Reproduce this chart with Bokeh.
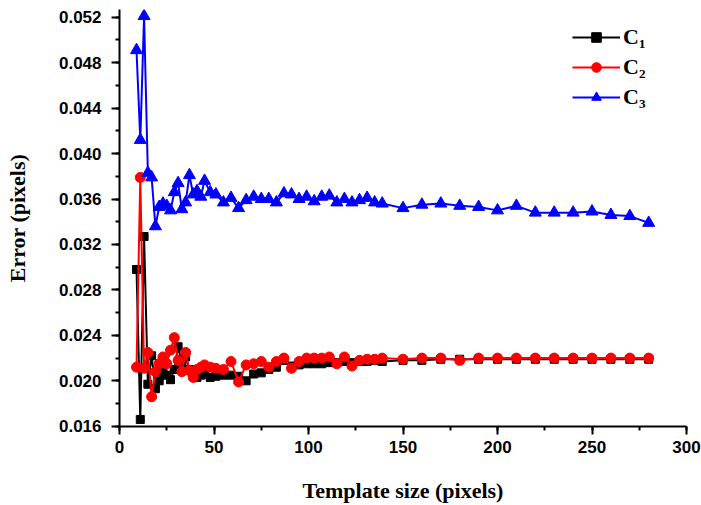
from bokeh.plotting import figure
from bokeh.models import (Range1d, SingleIntervalTicker, PrintfTickFormatter,
                          Legend, LegendItem, LinearAxis)
from bokeh.embed import file_html
from bokeh.resources import INLINE

# ---------------- data ----------------
template_size = [9, 11, 13, 15, 17, 19, 21, 23, 25, 27, 29, 31, 33, 35, 37, 39, 41, 43, 45,
                 48, 51,
                 55, 59, 63, 67, 71, 75, 79, 83, 87, 91, 95, 99, 103, 107, 111, 115, 119,
                 123, 127, 131, 135, 139,
                 150, 160, 170, 180, 190, 200, 210, 220, 230, 240, 250, 260, 270, 280]

err_c1 = [0.0298, 0.0166, 0.0327, 0.0197, 0.0222, 0.0193, 0.0200, 0.0208, 0.0205, 0.0201,
          0.0210, 0.0230, 0.0215, 0.0221, 0.0210, 0.0206, 0.0203, 0.0205, 0.0206,
          0.0203, 0.0204,
          0.0205, 0.0205, 0.0204, 0.0200, 0.0206, 0.0207, 0.0210, 0.0212, 0.0218, 0.0213,
          0.0214, 0.0215, 0.0215, 0.0215, 0.0216, 0.0216, 0.0217, 0.0216, 0.0217, 0.0217,
          0.0218, 0.0217,
          0.0218, 0.0218, 0.0219, 0.0219, 0.0219, 0.0219, 0.0219, 0.0219, 0.0219, 0.0219,
          0.0219, 0.0219, 0.0219, 0.0219]

err_c2 = [0.0212, 0.0379, 0.0211, 0.0225, 0.0186, 0.0208, 0.0215, 0.0221, 0.0215, 0.0227,
          0.0238, 0.0218, 0.0208, 0.0225, 0.0209, 0.0203, 0.0210, 0.0212, 0.0214,
          0.0212, 0.0211,
          0.0210, 0.0217, 0.0199, 0.0214, 0.0215, 0.0217, 0.0212, 0.0217, 0.0220, 0.0211,
          0.0217, 0.0220, 0.0220, 0.0220, 0.0221, 0.0215, 0.0221, 0.0213, 0.0218, 0.0219,
          0.0219, 0.0220,
          0.0219, 0.0220, 0.0220, 0.0218, 0.0220, 0.0220, 0.0220, 0.0220, 0.0220, 0.0220,
          0.0220, 0.0220, 0.0220, 0.0220]

err_c3 = [0.0491, 0.0412, 0.0521, 0.0383, 0.0379, 0.0336, 0.0353, 0.0356, 0.0354, 0.0350,
          0.0366, 0.0374, 0.0351, 0.0357, 0.0381, 0.0364, 0.0367, 0.0362, 0.0376,
          0.0366, 0.0364,
          0.0357, 0.0361, 0.0352, 0.0359, 0.0362, 0.0360, 0.0360, 0.0357, 0.0365, 0.0364,
          0.0360, 0.0362, 0.0358, 0.0362, 0.0363, 0.0357, 0.0360, 0.0357, 0.0359, 0.0361,
          0.0357, 0.0356,
          0.0352, 0.0355, 0.0356, 0.0354, 0.0353, 0.0350, 0.0354, 0.0348, 0.0348, 0.0348,
          0.0349, 0.0346, 0.0345, 0.0339]

series_labels = ["C\u2081", "C\u2082", "C\u2083"]
x_title = "Template size (pixels)"
y_title = "Error (pixels)"

# ---------------- figure ----------------
p = figure(width=701, height=505,
           x_range=Range1d(0, 300), y_range=Range1d(0.01598, 0.05268),
           output_backend="svg", toolbar_location=None,
           min_border_left=119, min_border_right=15,
           min_border_top=9, min_border_bottom=79)
p.xaxis.visible = False
p.yaxis.visible = False
p.grid.visible = False
p.outline_line_color = None
p.background_fill_color = "white"
p.border_fill_color = "white"

xa = LinearAxis(ticker=SingleIntervalTicker(interval=50, num_minor_ticks=2))
ya = LinearAxis(ticker=SingleIntervalTicker(interval=0.004, num_minor_ticks=2),
                formatter=PrintfTickFormatter(format="%.3f"))
for ax in (xa, ya):
    ax.axis_line_color = "black"
    ax.axis_line_width = 2
    ax.major_tick_line_color = "black"
    ax.major_tick_line_width = 2
    ax.minor_tick_line_color = "black"
    ax.minor_tick_line_width = 2
    ax.major_tick_in = 0
    ax.major_tick_out = 8
    ax.minor_tick_in = 0
    ax.minor_tick_out = 4
    ax.major_label_text_font = "Liberation Sans"
    ax.major_label_text_font_style = "bold"
    ax.major_label_text_font_size = "17px"
    ax.major_label_text_color = "black"
    ax.axis_label_text_font = "Liberation Serif"
    ax.axis_label_text_font_style = "bold"
    ax.axis_label_text_font_size = "22px"
    ax.axis_label_text_color = "black"
xa.axis_label = x_title
ya.axis_label = y_title
xa.major_label_standoff = 6
xa.axis_label_standoff = 22
ya.major_label_standoff = 10
ya.axis_label_standoff = 26
p.add_layout(xa, "below")
p.add_layout(ya, "left")

colors = ["black", "red", "blue"]
markers = ["square", "circle", "triangle"]
sizes = [8, 10, 12]
series = [err_c1, err_c2, err_c3]

items = []
for lab, ys, c, m, s in zip(series_labels, series, colors, markers, sizes):
    ln = p.line(template_size, ys, line_color=c, line_width=2)
    sc = p.scatter(template_size, ys, marker=m, size=s, fill_color=c, line_color=c)
    items.append(LegendItem(label=lab, renderers=[ln, sc]))

legend = Legend(items=items, location=(453, 316))
legend.border_line_color = None
legend.background_fill_alpha = 0
legend.padding = 0
legend.margin = 0
legend.glyph_width = 48
legend.glyph_height = 24
legend.label_height = 24
legend.spacing = 4
legend.label_standoff = 3
legend.label_text_font = "Liberation Serif"
legend.label_text_font_style = "bold"
legend.label_text_font_size = "22px"
legend.label_text_color = "black"
p.add_layout(legend, "center")

open("out.html", "w").write(file_html(p, INLINE))
